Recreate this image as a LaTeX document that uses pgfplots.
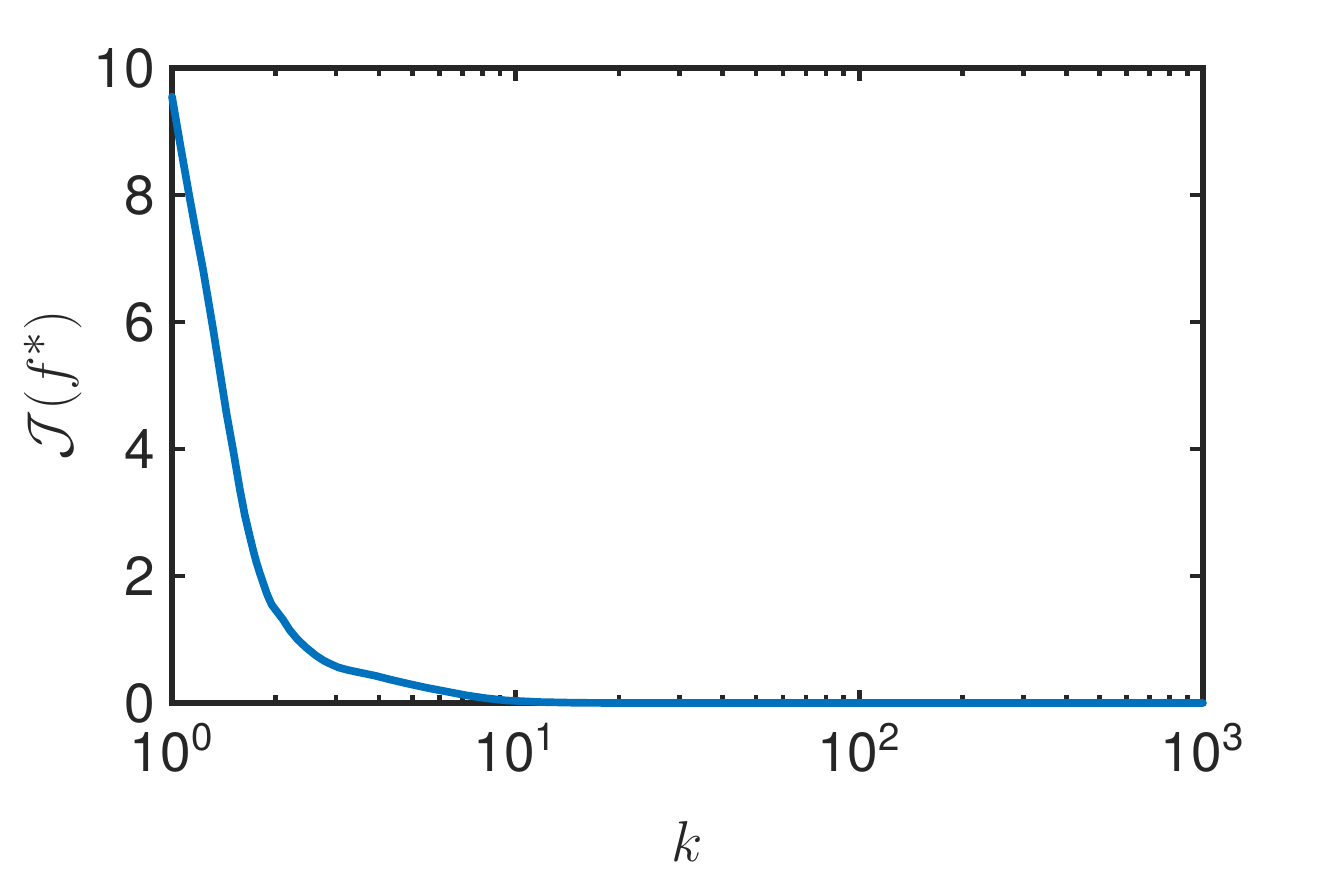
\documentclass[border=0pt]{standalone}
\usepackage[no-math]{fontspec}
\setmainfont{TeX Gyre Heros}
\usepackage{pgfplots}
\pgfplotsset{compat=1.18}

\definecolor{axgray}{RGB}{38,38,38}
\definecolor{mblue}{RGB}{0,114,189}

\begin{document}
\begin{tikzpicture}
  \begin{semilogxaxis}[
      name=ax,
      scale only axis,
      width=309.3pt,
      height=190.5pt,
      xmin=1, xmax=1000,
      ymin=0, ymax=10,
      xtick={1,10,100,1000},
      xticklabels={10\textsuperscript{0},10\textsuperscript{1},10\textsuperscript{2},10\textsuperscript{3}},
      ytick={0,2,4,6,8,10},
      tick align=inside,
      major tick length=3.8pt,
      minor tick length=2.4pt,
      line width=1.6pt,
      axis line style={line width=1.6pt, color=axgray},
      tick style={line width=1.4pt, color=axgray},
      ticklabel style={font=\fontsize{16.5}{19}\selectfont, color=axgray},
      /pgf/number format/assume math mode=true,
      xticklabel style={yshift=-2pt},
      yticklabel style={xshift=-1pt},
      xlabel={$k$},
      ylabel={$\mathcal{J}(f^*)$},
      label style={font=\fontsize{19}{22}\selectfont, color=axgray},
      xlabel style={at={(axis description cs:0.5,-0.25)}, anchor=base},
      ylabel style={at={(axis description cs:-0.115,0.5)}, anchor=center},
      clip=false,
    ]
    % values
    \addplot[color=mblue, line width=2.3pt, line cap=round, line join=round]
      coordinates {
        (1,9.55) (1.06,8.75) (1.126,7.95) (1.18,7.35) (1.232,6.82)
        (1.317,5.89) (1.38,5.20) (1.441,4.56) (1.51,3.95) (1.576,3.36)
        (1.63,2.95) (1.685,2.62) (1.724,2.40) (1.76,2.22) (1.80,2.05)
        (1.845,1.88) (1.886,1.73) (1.92,1.63) (1.95,1.55) (2.0,1.47)
        (2.1,1.32) (2.20,1.15) (2.32,1.00) (2.46,0.87) (2.62,0.75)
        (2.76,0.67) (2.88,0.62) (3.05,0.56) (3.25,0.52) (3.45,0.49)
        (3.9,0.43) (4.31,0.37) (4.9,0.30) (5.51,0.24) (6.3,0.18)
        (7.20,0.12) (8.2,0.075) (9.41,0.04) (11.8,0.015) (15,0.004)
        (20,0) (1000,0)
      };
  \end{semilogxaxis}
  \pgfresetboundingbox
  \path ([xshift=-51.6pt,yshift=-54.6pt]ax.south west)
    rectangle ([xshift=37.8pt,yshift=20.4pt]ax.north east);
\end{tikzpicture}
\end{document}
